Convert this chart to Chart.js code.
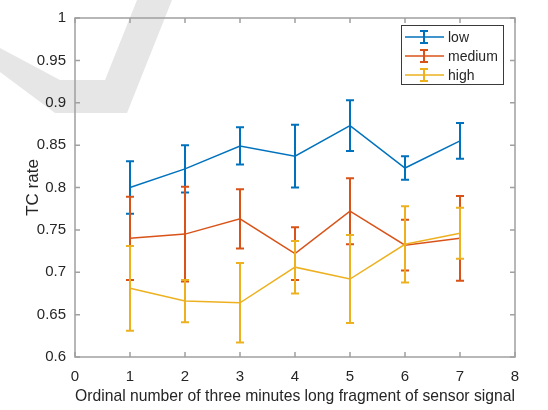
<!DOCTYPE html>
<html>
<head>
<meta charset="utf-8">
<script src="https://cdn.jsdelivr.net/npm/chart.js@4/dist/chart.umd.min.js"></script>
<style>
  html, body { margin: 0; padding: 0; background: #fff; }
  #chart { display: block; }
</style>
</head>
<body>
<canvas id="chart" width="548" height="410"></canvas>
<script>
// Data
const fragments = [1, 2, 3, 4, 5, 6, 7];
const seriesNames = ["low", "medium", "high"];
const lowMean = [0.800, 0.822, 0.849, 0.837, 0.873, 0.823, 0.855];
const lowErr = [0.031, 0.028, 0.022, 0.037, 0.030, 0.014, 0.021];
const mediumMean = [0.740, 0.745, 0.763, 0.722, 0.772, 0.732, 0.740];
const mediumErr = [0.049, 0.056, 0.035, 0.031, 0.039, 0.030, 0.050];
const highMean = [0.681, 0.666, 0.664, 0.706, 0.692, 0.733, 0.746];
const highErr = [0.050, 0.025, 0.047, 0.031, 0.052, 0.045, 0.030];
const xTicks = [0, 1, 2, 3, 4, 5, 6, 7, 8];
const yTicks = [0.6, 0.65, 0.7, 0.75, 0.8, 0.85, 0.9, 0.95, 1];

const colors = ["#0072BD", "#D95319", "#EDB120"];
const means = [lowMean, mediumMean, highMean];
const errs = [lowErr, mediumErr, highErr];
const textColor = "#262626";
const axisColor = "#a0a0a0";

// Faint watermark behind the figure
const watermark = {
  id: "watermark",
  beforeDraw(chart) {
    const ctx = chart.ctx;
    ctx.save();
    ctx.fillStyle = "#ffffff";
    ctx.fillRect(0, 0, chart.width, chart.height);
    ctx.fillStyle = "rgba(200,200,200,0.45)";
    ctx.beginPath();
    ctx.moveTo(137, 0);
    ctx.lineTo(172, 0);
    ctx.lineTo(127, 113);
    ctx.lineTo(55, 113);
    ctx.lineTo(0, 72);
    ctx.lineTo(0, 48);
    ctx.lineTo(60, 80);
    ctx.lineTo(105, 80);
    ctx.closePath();
    ctx.fill();
    ctx.restore();
  }
};

// Error bars, drawn right after each series line
const errorBars = {
  id: "errorBars",
  afterDatasetDraw(chart, args) {
    const ds = chart.data.datasets[args.index];
    const xs = chart.scales.x, ys = chart.scales.y;
    const ctx = chart.ctx;
    ctx.save();
    ctx.strokeStyle = ds.borderColor;
    ctx.lineWidth = 2;
    ds.data.forEach((p, i) => {
      const e = ds.errors[i];
      const px = xs.getPixelForValue(p.x);
      const top = ys.getPixelForValue(p.y + e);
      const bot = ys.getPixelForValue(p.y - e);
      ctx.beginPath();
      ctx.moveTo(px, top); ctx.lineTo(px, bot);
      ctx.moveTo(px - 4, top); ctx.lineTo(px + 4, top);
      ctx.moveTo(px - 4, bot); ctx.lineTo(px + 4, bot);
      ctx.stroke();
    });
    ctx.restore();
  }
};

// MATLAB style box with inward ticks, and the legend box
const boxAndLegend = {
  id: "boxAndLegend",
  afterDraw(chart) {
    const ctx = chart.ctx;
    const a = chart.chartArea;
    const xs = chart.scales.x, ys = chart.scales.y;
    ctx.save();
    ctx.strokeStyle = axisColor;
    ctx.lineWidth = 1.5;
    ctx.strokeRect(a.left, a.top, a.right - a.left, a.bottom - a.top);
    ctx.beginPath();
    xTicks.forEach(v => {
      const px = xs.getPixelForValue(v);
      ctx.moveTo(px, a.bottom); ctx.lineTo(px, a.bottom - 5);
      ctx.moveTo(px, a.top); ctx.lineTo(px, a.top + 5);
    });
    yTicks.forEach(v => {
      const py = ys.getPixelForValue(v);
      ctx.moveTo(a.left, py); ctx.lineTo(a.left + 5, py);
      ctx.moveTo(a.right, py); ctx.lineTo(a.right - 5, py);
    });
    ctx.stroke();

    // legend
    const lx = 401, ly = 25, lw = 102, lh = 59;
    ctx.fillStyle = "#ffffff";
    ctx.fillRect(lx, ly, lw, lh);
    ctx.strokeStyle = "#3a3a3a";
    ctx.lineWidth = 1;
    ctx.strokeRect(lx + 0.5, ly + 0.5, lw, lh);
    ctx.font = "14px 'Liberation Sans', Arial, sans-serif";
    ctx.textBaseline = "middle";
    ctx.textAlign = "left";
    seriesNames.forEach((name, i) => {
      const cy = ly + 12 + i * 19;
      ctx.strokeStyle = colors[i];
      ctx.lineWidth = 1.5;
      ctx.beginPath();
      ctx.moveTo(405, cy); ctx.lineTo(444, cy);
      ctx.stroke();
      ctx.lineWidth = 2;
      ctx.beginPath();
      ctx.moveTo(424, cy - 6); ctx.lineTo(424, cy + 6);
      ctx.moveTo(420, cy - 6); ctx.lineTo(428, cy - 6);
      ctx.moveTo(420, cy + 6); ctx.lineTo(428, cy + 6);
      ctx.stroke();
      ctx.fillStyle = textColor;
      ctx.fillText(name, 448, cy + 1);
    });
    ctx.restore();
  }
};

const datasets = seriesNames.map((name, k) => ({
  label: name,
  data: fragments.map((x, i) => ({ x: x, y: means[k][i] })),
  errors: errs[k],
  borderColor: colors[k],
  backgroundColor: colors[k],
  borderWidth: 1.5,
  pointRadius: 0,
  tension: 0,
  order: 3 - k
}));

new Chart(document.getElementById("chart"), {
  type: "line",
  data: { datasets },
  options: {
    responsive: false,
    animation: false,
    events: [],
    layout: { padding: { top: 14, right: 33, left: 0, bottom: 0 } },
    plugins: { legend: { display: false }, tooltip: { enabled: false } },
    scales: {
      x: {
        type: "linear",
        min: 0, max: 8,
        afterBuildTicks: s => { s.ticks = xTicks.map(v => ({ value: v })); },
        afterFit: s => { s.height = 53; },
        grid: { display: false, drawTicks: false },
        border: { display: false },
        ticks: { color: textColor, padding: 11, font: { family: "'Liberation Sans', Arial, sans-serif", size: 15 } },
        title: {
          display: true,
          text: "Ordinal number of three minutes long fragment of sensor signal",
          color: textColor,
          font: { family: "'Liberation Sans', Arial, sans-serif", size: 17 },
          padding: { top: 0, bottom: 3 }
        }
      },
      y: {
        type: "linear",
        min: 0.6, max: 1,
        afterBuildTicks: s => { s.ticks = yTicks.map(v => ({ value: v })); },
        afterFit: s => { s.width = 75; },
        grid: { display: false, drawTicks: false },
        border: { display: false },
        ticks: {
          color: textColor, padding: 9,
          font: { family: "'Liberation Sans', Arial, sans-serif", size: 15 },
          callback: v => String(Math.round(v * 100) / 100)
        },
        title: {
          display: true,
          text: "TC rate",
          color: textColor,
          font: { family: "'Liberation Sans', Arial, sans-serif", size: 17 },
          padding: { top: 23, bottom: 0 }
        }
      }
    }
  },
  plugins: [watermark, errorBars, boxAndLegend]
});
</script>
</body>
</html>
